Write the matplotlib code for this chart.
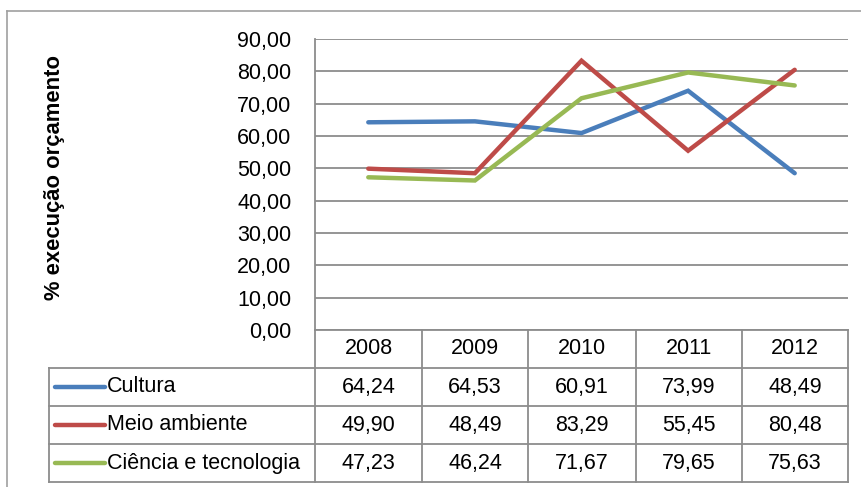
import matplotlib.pyplot as plt
from matplotlib.lines import Line2D

# data ---------------------------------------------------------------------------------

years = ["2008", "2009", "2010", "2011", "2012"]
series_names = ["Cultura", "Meio ambiente", "Ciência e tecnologia"]
cultura = [64.24, 64.53, 60.91, 73.99, 48.49]
meio_ambiente = [49.90, 48.49, 83.29, 55.45, 80.48]
ciencia = [47.23, 46.24, 71.67, 79.65, 75.63]
y_ticks = [0, 10, 20, 30, 40, 50, 60, 70, 80, 90]

colors = ["#4a7ebb", "#be4b48", "#98b954"]
grid_col = "#8c8c8c"
fs = 15.5

plt.rcParams["font.family"] = ["Liberation Sans", "DejaVu Sans"]

W, H = 862, 487
fig = plt.figure(figsize=(W / 100, H / 100), dpi=100)


def fx(px):
    return px / W


def fy(py):
    return 1 - py / H


# outer chart border
fig.add_artist(Line2D([fx(7), 1], [fy(11), fy(11)], color="#a0a0a0", lw=1.2))
fig.add_artist(Line2D([fx(7), fx(7)], [fy(11), 0], color="#a0a0a0", lw=1.2))

# plot area -------------------------------------------------------------------------------

left, right, top, bottom = 315, 848, 39, 330
ax = fig.add_axes([fx(left), fy(bottom), fx(right - left), (bottom - top) / H])
data = [cultura, meio_ambiente, ciencia]
x = range(len(years))
for vals, c in zip(data, colors):
    ax.plot(x, vals, color=c, lw=3.2, solid_capstyle="round", solid_joinstyle="miter")

ax.set_xlim(-0.5, len(years) - 0.5)
ax.set_ylim(0, 90)
ax.set_yticks(y_ticks)
ax.set_yticklabels([f"{t:.2f}".replace(".", ",") for t in y_ticks], fontsize=fs)
ax.set_xticks([])
ax.tick_params(axis="y", length=0, pad=17)
ax.grid(axis="y", color=grid_col, lw=1.3)
ax.set_axisbelow(True)
for s in ["top", "right", "bottom"]:
    ax.spines[s].set_visible(False)
ax.spines["left"].set_color(grid_col)
ax.spines["left"].set_linewidth(1.3)

fig.text(fx(55), fy(178), "% execução orçamento", rotation=90, fontsize=15.8,
         fontweight="bold", ha="center", va="center")

# data table -------------------------------------------------------------------------------

col_edges = [315, 422, 528, 636, 742, 848]
row_edges = [330, 368, 406, 444, 482]
label_left = 49

tkw = dict(color=grid_col, lw=1.3)
# horizontal lines
fig.add_artist(Line2D([fx(col_edges[0]), fx(col_edges[-1])], [fy(row_edges[0])] * 2, **tkw))
for r in row_edges[1:]:
    fig.add_artist(Line2D([fx(label_left), fx(col_edges[-1])], [fy(r)] * 2, **tkw))
# vertical lines
for c in col_edges:
    fig.add_artist(Line2D([fx(c)] * 2, [fy(row_edges[0]), fy(row_edges[-1])], **tkw))
fig.add_artist(Line2D([fx(label_left)] * 2, [fy(row_edges[1]), fy(row_edges[-1])], **tkw))

for i, yr in enumerate(years):
    cx = (col_edges[i] + col_edges[i + 1]) / 2
    cy = (row_edges[0] + row_edges[1]) / 2
    fig.text(fx(cx), fy(cy), yr, fontsize=fs, ha="center", va="center")

for j, (name, vals, c) in enumerate(zip(series_names, data, colors)):
    cy = (row_edges[j + 1] + row_edges[j + 2]) / 2
    fig.add_artist(Line2D([fx(55), fx(105)], [fy(cy)] * 2, color=c, lw=3.2,
                          solid_capstyle="round"))
    fig.text(fx(107), fy(cy), name, fontsize=fs, ha="left", va="center")
    for i, v in enumerate(vals):
        cx = (col_edges[i] + col_edges[i + 1]) / 2
        fig.text(fx(cx), fy(cy), f"{v:.2f}".replace(".", ","), fontsize=fs,
                 ha="center", va="center")

fig.savefig("out.png", dpi=100)
